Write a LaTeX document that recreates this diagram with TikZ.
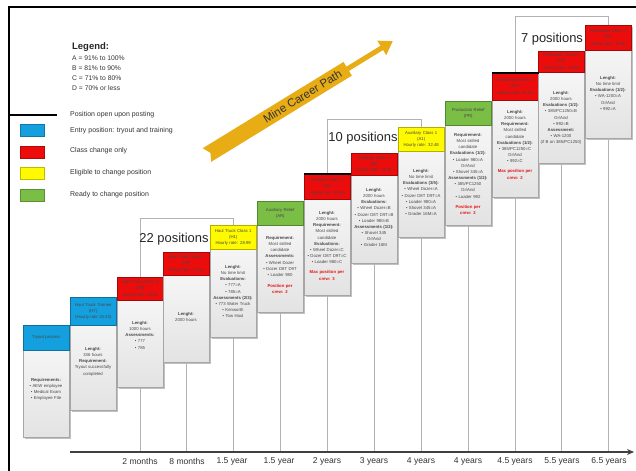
\documentclass[tikz,border=0pt]{standalone}
\usepackage{fontspec}
\setmainfont{Liberation Sans}
\usetikzlibrary{shadows,arrows.meta}

\definecolor{entryblue}{RGB}{20,160,222}
\definecolor{classred}{RGB}{236,12,12}
\definecolor{eligyellow}{RGB}{255,250,0}
\definecolor{readygreen}{RGB}{122,190,70}
\definecolor{ribbongold}{RGB}{232,172,20}
\definecolor{framegray}{RGB}{178,178,178}
\definecolor{maxred}{RGB}{230,20,20}

\newcommand\tinyfont{\fontsize{4.3}{6.2}\selectfont}
\newcommand\redtxt[1]{{\color{maxred}\bfseries #1}}

\tikzset{
  cbody/.style={draw=black!35, line width=0.5bp, top color=black!2, bottom color=black!11,
    minimum width=46bp, inner sep=0pt, anchor=north west,
    drop shadow={shadow xshift=1.3bp, shadow yshift=-1.3bp, opacity=0.35, fill=black!70}},
  chead/.style={draw=#1!70!black, line width=0.5bp, fill=#1, minimum width=46bp,
    inner sep=0pt, anchor=north west, text width=45bp, align=center,
    font=\tinyfont, text=black!72},
  ctext/.style={anchor=north, inner sep=0pt, text width=46bp, align=center,
    font=\tinyfont, text=black!72},
  tickline/.style={draw=framegray, line width=0.8bp},
  grpframe/.style={draw=framegray, line width=0.8bp},
  grplabel/.style={font=\fontsize{13}{14}\selectfont, text=black!85, inner sep=0pt},
  axislabel/.style={font=\fontsize{8.6}{10}\selectfont, text=black!80, inner sep=0pt},
  legtext/.style={font=\fontsize{7}{8}\selectfont, text=black!80, anchor=west, inner sep=0pt},
  swatch/.style={draw=#1!75!black, line width=0.4bp, fill=#1, minimum width=24bp,
    minimum height=12bp, inner sep=0pt, anchor=west,
    drop shadow={shadow xshift=0.8bp, shadow yshift=-0.8bp, opacity=0.3, fill=black!60}},
  openpost/.style={draw=black, line width=1.5bp}
}

% #1 name, #2 left x, #3 header top, #4 header bottom, #5 body bottom,
% #6 header colour, #7 header text, #8 top of body text, #9 body text
\newcommand\careerbox[9]{%
  \pgfmathsetmacro\cbh{#5-#3}%
  \pgfmathsetmacro\chh{#4-#3}%
  \node[cbody, minimum height=\cbh bp] (#1) at (#2,#3) {};
  \node[chead=#6, minimum height=\chh bp] (#1h) at (#2,#3) {#7};
  \node[ctext] (#1t) at (#2+23,#8) {#9};
}

\begin{document}
\begin{tikzpicture}[x=1bp,y=-1bp]
\useasboundingbox[fill=white] (0,0) rectangle (636,471);

% page frame and legend rule
\draw[line width=2.6bp] (9,472) -- (9,7) -- (637,7);
\coordinate (legL) at (9,115);
\coordinate (legR) at (57,115);
\draw[line width=1.3bp] (legL) -- (legR);

% legend
\node[anchor=west, inner sep=0pt, text=black!85, font=\fontsize{9.5}{10}\selectfont\bfseries] (legend) at (72,47) {Legend:};
\node[anchor=west, inner sep=0pt, text=black!80, font=\fontsize{6.8}{8}\selectfont] (legA) at (72,58) {A = 91\% to 100\%};
\node[anchor=west, inner sep=0pt, text=black!80, font=\fontsize{6.8}{8}\selectfont] (legB) at (72,68) {B = 81\% to 90\%};
\node[anchor=west, inner sep=0pt, text=black!80, font=\fontsize{6.8}{8}\selectfont] (legC) at (72,78) {C = 71\% to 80\%};
\node[anchor=west, inner sep=0pt, text=black!80, font=\fontsize{6.8}{8}\selectfont] (legD) at (72,88) {D = 70\% or less};
\node[legtext] (lg0) at (70,115) {Position open upon posting};
\node[swatch=entryblue] (sw1) at (20,130) {};
\node[legtext] (lg1) at (70,131) {Entry position: tryout and training};
\node[swatch=classred] (sw2) at (20,152) {};
\node[legtext] (lg2) at (70,151) {Class change only};
\node[swatch=eligyellow] (sw3) at (20,173) {};
\node[legtext] (lg3) at (70,173) {Eligible to change position};
\node[swatch=readygreen] (sw4) at (20,195) {};
\node[legtext] (lg4) at (70,195) {Ready to change position};

% career path ribbon
\begin{scope}[shift={(207,155)}, rotate=31.5]
  \fill[ribbongold] (0,-8) -- (165,-8) -- (165,8) -- (0,8) -- (4,0) -- cycle;
  \coordinate (shaftA) at (163,0);
  \coordinate (shaftB) at (218,0);
  \draw[ribbongold, line width=5bp, -{Triangle[length=13bp,width=16bp]}] (shaftA) -- (shaftB);
  \node[rotate=31.5, font=\fontsize{11.5}{12}\selectfont, text=black!80, inner sep=0pt] (path) at (112,0) {Mine Career Path};
\end{scope}

% timeline axis
\coordinate (axisL) at (70,452);
\coordinate (axisR) at (634,452);

% position groups
\draw[grpframe] (140,452) -- (140,218) -- (233,218) -- (233,452);
\draw[grpframe] (327,452) -- (327,119) -- (421,119) -- (421,452);
\draw[grpframe] (515,452) -- (515,16) -- (608,16) -- (608,452);
\node[grplabel] (g22) at (174,239) {22 positions};
\node[grplabel] (g10) at (363,138) {10 positions};
\node[grplabel] (g7)  at (552,39)  {7 positions};

% the steps
\careerbox{b0}{23}{325}{350}{437}{entryblue}{Tryout process}{378}
  {\textbf{Requirements:}\\• AEW employee\\• Medical Exam\\• Employee File}
\careerbox{b1}{70}{297}{325}{410}{entryblue}{Haul Truck Trainee\\(HT)\\(Hourly rate 15.33)}{347}
  {\textbf{Lenght:}\\336 hours\\\textbf{Requirement:}\\Tryout successfully\\completed}
\careerbox{b2}{117}{277}{300}{387}{classred}{Haul Truck Class 3\\(H3)\\Hourly rate: 24.92}{321}
  {\textbf{Lenght:}\\1000 hours\\\textbf{Assessments:}\\• 777\\• 785}
\careerbox{b3}{163}{252}{275}{362}{classred}{Haul Truck Class 2\\(H2)\\Hourly rate: 27.03}{312}
  {\textbf{Lenght:}\\2000 hours}
\careerbox{b4}{210}{225}{249}{337}{eligyellow}{Haul Truck Class 1\\(H1)\\Hourly rate: 28.99}{265}
  {\textbf{Lenght:}\\No time limit\\\textbf{Evaluations:}\\• 777=A\\• 785=A\\\textbf{Assessments (2/3):}\\• 773 Water Truck\\• Kenworth\\• Tow Haul}
\careerbox{b5}{257}{201}{225}{312}{readygreen}{Auxiliary Relief\\(AR)}{236}
  {\textbf{Requirement:}\\Most skilled\\candidate\\\textbf{Assessments:}\\• Wheel Dozer\\• Dozer D8T D9T\\• Loader 980\\[5bp]\redtxt{Position per}\\\redtxt{crew: 2}}
\careerbox{b6}{304}{174}{199}{295}{classred}{Auxiliary Class 3\\(A3)\\Hourly rate: 30.06}{211}
  {\textbf{Lenght:}\\2000 hours\\\textbf{Requirement:}\\Most skilled\\candidate\\\textbf{Evaluations:}\\• Wheel Dozer=C\\• Dozer D8T D9T=C\\• Loader 980=C\\[4bp]\redtxt{Max position per}\\\redtxt{crew: 3}}
\careerbox{b7}{351}{153}{175}{263}{classred}{Auxiliary Class 2\\(A2)\\Hourly rate: 31.38}{188}
  {\textbf{Lenght:}\\2000 hours\\\textbf{Evaluations:}\\• Wheel Dozer=B\\• Dozer D8T D9T=B\\• Loader 980=B\\\textbf{Assessments (1/2):}\\• Shovel 345\\Or/And\\• Grader 16M}
\careerbox{b8}{398}{127}{151}{237}{eligyellow}{Auxiliary Class 1\\(A1)\\Hourly rate: 32.48}{169}
  {\textbf{Lenght:}\\No time limit\\\textbf{Evaluations (3/5):}\\• Wheel Dozer=A\\• Dozer D8T D9T=A\\• Loader 980=A\\• Shovel 345=A\\• Grader 16M=A}
\careerbox{b9}{445}{101}{125}{225}{readygreen}{Production Relief\\(PR)}{133}
  {\textbf{Requirement:}\\Most skilled\\candidate\\\textbf{Evaluations (1/2):}\\• Loader 980=A\\Or/And\\• Shovel 345=A\\\textbf{Assessments (1/2):}\\• 385/PC1250\\Or/And\\• Loader 992\\[4bp]\redtxt{Position per}\\\redtxt{crew: 2}}
\careerbox{b10}{492}{73}{100}{197}{classred}{Production Class 3\\(P3)\\Hourly rate: 33.90}{110}
  {\textbf{Lenght:}\\2000 hours\\\textbf{Requirement:}\\Most skilled\\candidate\\\textbf{Evaluations (1/2):}\\• 385/PC1250=C\\Or/And\\• 992=C\\[4bp]\redtxt{Max position per}\\\redtxt{crew: 2}}
\careerbox{b11}{538}{51}{72}{163}{classred}{Production Class 2\\(P2)\\Hourly rate: 34.88}{91}
  {\textbf{Lenght:}\\2000 hours\\\textbf{Evaluations (1/2):}\\• 385/PC1250=B\\Or/And\\• 992=B\\\textbf{Assessment:}\\• WA-1200\\(if B on 385/PC1250)}
\careerbox{b12}{585}{25}{50}{138}{classred}{Production Class 1\\(P1)\\Hourly rate: 35.90}{76}
  {\textbf{Lenght:}\\No time limit\\\textbf{Evaluations (1/2):}\\• WA-1200=A\\Or/And\\• 992=A}

% positions open upon posting
\draw[openpost] (b6h.north west) -- (b6h.north east);
\draw[openpost] (b10h.north west) -- (b10h.north east);

% ticks from each step down to the timeline
\foreach \b in {b2,b3,b4,b5,b6,b7,b8,b9,b10,b11,b12}
  \draw[tickline] (\b.south) -- (\b.south |- axisL);

\draw[draw=black!75, line width=1.8bp, -{Stealth[length=7bp,width=6bp]}] (axisL) -- (axisR);

% time labels
\node[axislabel] (l1)  at (140,461) {2 months};
\node[axislabel] (l2)  at (187,461) {8 months};
\node[axislabel] (l3)  at (232,461) {1.5 year};
\node[axislabel] (l4)  at (279,461) {1.5 year};
\node[axislabel] (l5)  at (327,461) {2 years};
\node[axislabel] (l6)  at (374,461) {3 years};
\node[axislabel] (l7)  at (421,461) {4 years};
\node[axislabel] (l8)  at (468,461) {4 years};
\node[axislabel] (l9)  at (515,461) {4.5 years};
\node[axislabel] (l10) at (562,461) {5.5 years};
\node[axislabel] (l11) at (609,461) {6.5 years};
\end{tikzpicture}
\end{document}
